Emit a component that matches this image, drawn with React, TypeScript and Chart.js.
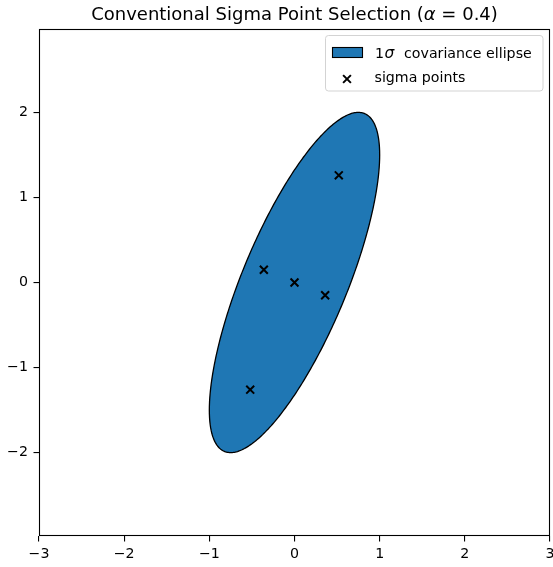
import React, { useEffect, useRef } from 'react';
import { Chart, registerables } from 'chart.js';

Chart.register(...registerables);

// ---- data ----
const TITLE_PARTS = ['Conventional Sigma Point Selection (', 'α', ' = 0.4)'];
const ELLIPSE_LABEL_NUM = '1';
const ELLIPSE_LABEL_SYM = 'σ';
const ELLIPSE_LABEL_TEXT = 'covariance ellipse';
const POINTS_LABEL = 'sigma points';

const MEAN_X = 0;
const MEAN_Y = 0;
const COV_XX = 1.0;
const COV_XY = 1.5;
const COV_YY = 4.0;

const SIGMA_X = [0, 0.52, -0.52, -0.36, 0.36];
const SIGMA_Y = [0, 1.26, -1.26, 0.15, -0.15];

const X_TICKS = [-3, -2, -1, 0, 1, 2, 3];
const Y_TICKS = [-2, -1, 0, 1, 2];
const X_MIN = -3;
const X_MAX = 3;
const Y_MIN = -2.98;
const Y_MAX = 2.98;

const FONT = "'DejaVu Sans', sans-serif";
const ELLIPSE_COLOR = '#1f77b4';
const TICK_SIZE = 14.2;
const TITLE_SIZE = 18;

function ellipseOutline() {
  // 1-sigma ellipse from the covariance (Cholesky factor applied to the unit circle)
  const l11 = Math.sqrt(COV_XX);
  const l21 = COV_XY / l11;
  const l22 = Math.sqrt(COV_YY - l21 * l21);
  const pts: { x: number; y: number }[] = [];
  const n = 180;
  for (let i = 0; i <= n; i++) {
    const t = (i / n) * Math.PI * 2;
    const c = Math.cos(t);
    const s = Math.sin(t);
    pts.push({ x: MEAN_X + l11 * c, y: MEAN_Y + l21 * c + l22 * s });
  }
  return pts;
}

const fmt = (v: number) => (v < 0 ? '\u2212' + Math.abs(v) : String(v));

function drawParts(ctx: CanvasRenderingContext2D, parts: string[], italicIdx: number, size: number, x: number, y: number, align: 'left' | 'center') {
  const fonts = parts.map((_, i) => (i === italicIdx ? `italic ${size}px ${FONT}` : `${size}px ${FONT}`));
  const widths = parts.map((p, i) => {
    ctx.font = fonts[i];
    return ctx.measureText(p).width;
  });
  const total = widths.reduce((a, b) => a + b, 0);
  let cx = align === 'center' ? x - total / 2 : x;
  ctx.textAlign = 'left';
  ctx.textBaseline = 'alphabetic';
  parts.forEach((p, i) => {
    ctx.font = fonts[i];
    ctx.fillText(p, cx, y);
    cx += widths[i];
  });
}

const decorPlugin = {
  id: 'decor',
  afterDraw(chart: any) {
    const ctx: CanvasRenderingContext2D = chart.ctx;
    const a = chart.chartArea;
    ctx.save();
    // frame (spines)
    ctx.strokeStyle = '#000';
    ctx.lineWidth = 1.1;
    const l = Math.round(a.left) + 0.5;
    const t = Math.round(a.top) + 0.5;
    const r = Math.round(a.right) - 0.5;
    const b = Math.round(a.bottom) - 0.5;
    ctx.strokeRect(l, t, r - l, b - t);

    // title
    ctx.fillStyle = '#000';
    drawParts(ctx, TITLE_PARTS, 1, TITLE_SIZE, (a.left + a.right) / 2, 19.5, 'center');

    // legend
    const lx = 325.5, ly = 35.5, lw = 217.5, lh = 55.5;
    ctx.beginPath();
    ctx.roundRect(lx, ly, lw, lh, 3);
    ctx.fillStyle = 'rgba(255,255,255,0.8)';
    ctx.fill();
    ctx.strokeStyle = '#d3d3d3';
    ctx.lineWidth = 1;
    ctx.stroke();

    ctx.fillStyle = ELLIPSE_COLOR;
    ctx.fillRect(332.5, 47.5, 30, 10);
    ctx.strokeStyle = '#000';
    ctx.lineWidth = 1.1;
    ctx.strokeRect(332.5, 47.5, 30, 10);

    ctx.fillStyle = '#000';
    ctx.textAlign = 'left';
    ctx.textBaseline = 'alphabetic';
    ctx.font = `${TICK_SIZE}px ${FONT}`;
    ctx.fillText(ELLIPSE_LABEL_NUM, 375, 57.5);
    ctx.font = `italic ${TICK_SIZE + 1.2}px ${FONT}`;
    ctx.fillText(ELLIPSE_LABEL_SYM, 384.5, 57.5);
    ctx.font = `${TICK_SIZE}px ${FONT}`;
    ctx.fillText(ELLIPSE_LABEL_TEXT, 404, 57.5);

    // cross marker
    const mx = 347, my = 79, d = 3.9;
    ctx.beginPath();
    ctx.moveTo(mx - d, my - d);
    ctx.lineTo(mx + d, my + d);
    ctx.moveTo(mx - d, my + d);
    ctx.lineTo(mx + d, my - d);
    ctx.strokeStyle = '#000';
    ctx.lineWidth = 2;
    ctx.stroke();

    ctx.fillStyle = '#000';
    ctx.font = `${TICK_SIZE}px ${FONT}`;
    ctx.fillText(POINTS_LABEL, 374.5, 81.5);
    ctx.restore();
  },
};

export default function App() {
  const ref = useRef<HTMLCanvasElement>(null);
  useEffect(() => {
    document.body.style.margin = '0';
    const ctx = ref.current!.getContext('2d')!;
    const sigma = SIGMA_X.map((x, i) => ({ x, y: SIGMA_Y[i] }));
    const tickFont = { family: FONT, size: TICK_SIZE };
    const chart = new Chart(ctx, {
      type: 'line',
      data: {
        datasets: [
          {
            label: 'ellipse',
            data: ellipseOutline(),
            borderColor: '#000',
            borderWidth: 1.3,
            backgroundColor: ELLIPSE_COLOR,
            fill: 'shape',
            pointRadius: 0,
            tension: 0.0001,
            capBezierPoints: false,
            order: 2,
          } as any,
          {
            label: POINTS_LABEL,
            data: sigma,
            showLine: false,
            pointStyle: 'crossRot',
            pointRadius: 5.6,
            pointBorderWidth: 2,
            pointBorderColor: '#000',
            pointBackgroundColor: '#000',
            borderColor: '#000',
            order: 1,
          } as any,
        ],
      },
      options: {
        animation: false,
        responsive: false,
        events: [],
        layout: { autoPadding: false, padding: { top: 29, right: 3, left: 0, bottom: 0 } },
        plugins: {
          legend: { display: false },
          title: { display: false },
          tooltip: { enabled: false },
        },
        scales: {
          x: {
            type: 'linear',
            min: X_MIN,
            max: X_MAX,
            afterBuildTicks: (s: any) => {
              s.ticks = X_TICKS.map((v) => ({ value: v }));
            },
            afterFit: (s: any) => {
              s.height = 31;
              s.paddingLeft = 0;
              s.paddingRight = 0;
            },
            grid: { drawOnChartArea: false, color: '#000', tickLength: 5.5, lineWidth: 1.1 },
            border: { display: false },
            ticks: {
              color: '#000',
              font: tickFont,
              padding: 4,
              maxRotation: 0,
              autoSkip: false,
              callback: (v: any) => fmt(Number(v)),
            },
          },
          y: {
            type: 'linear',
            min: Y_MIN,
            max: Y_MAX,
            afterBuildTicks: (s: any) => {
              s.ticks = Y_TICKS.map((v) => ({ value: v }));
            },
            afterFit: (s: any) => {
              s.width = 39;
              s.paddingTop = 0;
              s.paddingBottom = 0;
            },
            grid: { drawOnChartArea: false, color: '#000', tickLength: 5.5, lineWidth: 1.1 },
            border: { display: false },
            ticks: {
              color: '#000',
              font: tickFont,
              padding: 5.5,
              autoSkip: false,
              callback: (v: any) => fmt(Number(v)),
            },
          },
        },
      } as any,
      plugins: [decorPlugin],
    });
    return () => chart.destroy();
  }, []);
  return (
    <div style={{ width: 553, height: 567 }}>
      <canvas ref={ref} width={553} height={567} style={{ display: 'block', width: 553, height: 567 }} />
    </div>
  );
}
